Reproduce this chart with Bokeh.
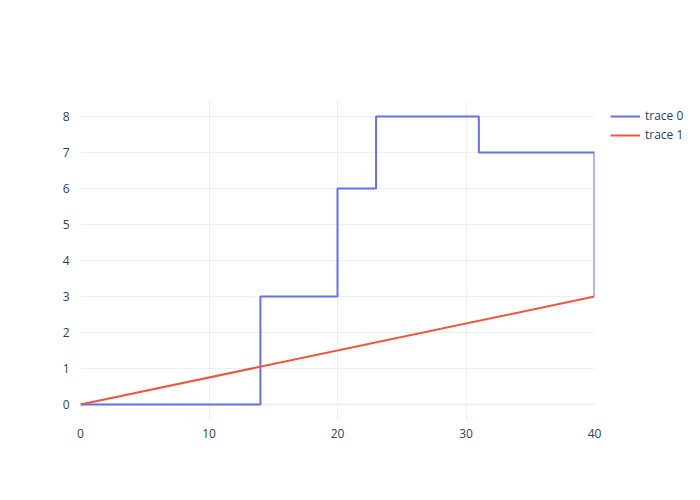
from bokeh.plotting import figure
from bokeh.models import Range1d, FixedTicker, Legend, LegendItem, Grid
from bokeh.embed import file_html
from bokeh.resources import INLINE

# data
trace0_x = [0, 14, 20, 23, 31, 40]
trace0_y = [0, 3, 6, 8, 7, 3]
trace1_x = [0, 40]
trace1_y = [0, 3]
x_ticks = [0, 10, 20, 30, 40]
y_ticks = [0, 1, 2, 3, 4, 5, 6, 7, 8]

FONT = "Open Sans"
TXT = "#2a3f5f"
GRID = "#EBF0F8"

p = figure(frame_width=514, frame_height=320, output_backend="svg", toolbar_location=None,
           x_range=Range1d(0, 40), y_range=Range1d(-0.444, 8.444),
           min_border_left=80, min_border_top=100, min_border_bottom=64,
           min_border_right=90)
p.outline_line_color = None
p.background_fill_color = "white"
p.border_fill_color = "white"

for ax, ticks in ((p.xaxis[0], x_ticks), (p.yaxis[0], y_ticks)):
    ax.ticker = FixedTicker(ticks=ticks)
    ax.axis_line_color = None
    ax.major_tick_line_color = None
    ax.minor_tick_line_color = None
    ax.major_label_text_font = FONT
    ax.major_label_text_font_size = "12px"
    ax.major_label_text_color = TXT
p.xaxis[0].major_label_standoff = 2
p.yaxis[0].major_label_standoff = 5

p.xgrid[0].ticker = FixedTicker(ticks=x_ticks)
p.ygrid[0].ticker = FixedTicker(ticks=y_ticks)
p.xgrid[0].grid_line_color = GRID
p.ygrid[0].grid_line_color = GRID
p.xgrid[0].grid_line_width = 1
p.ygrid[0].grid_line_width = 1

# zero lines
p.add_layout(Grid(dimension=0, ticker=FixedTicker(ticks=[0]), grid_line_color=GRID, grid_line_width=2))
p.add_layout(Grid(dimension=1, ticker=FixedTicker(ticks=[0]), grid_line_color=GRID, grid_line_width=2))

r0 = p.step(trace0_x, trace0_y, mode="after", line_color="#636efa", line_width=2)
r1 = p.line(trace1_x, trace1_y, line_color="#EF553B", line_width=2)

legend = Legend(items=[LegendItem(label="trace 0", renderers=[r0]),
                       LegendItem(label="trace 1", renderers=[r1])],
                location=(16, 277), orientation="vertical",
                border_line_color=None, background_fill_alpha=0,
                label_text_font=FONT, label_text_font_size="12px",
                label_text_color=TXT, glyph_width=30, glyph_height=16,
                label_height=16, spacing=2, label_standoff=5,
                padding=0, margin=0)
p.add_layout(legend, "right")

open("out.html", "w").write(file_html(p, INLINE))
